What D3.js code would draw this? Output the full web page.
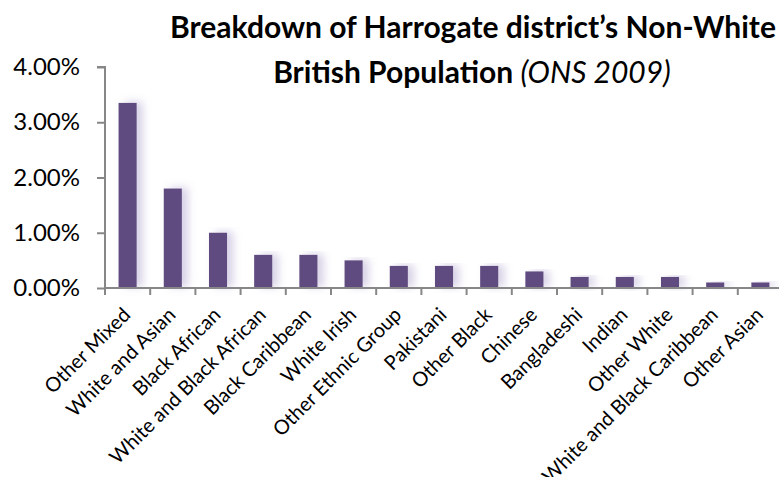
<!DOCTYPE html>
<html>
<head>
<meta charset="utf-8">
<script src="https://cdn.jsdelivr.net/npm/d3@7/dist/d3.min.js"></script>
<style>
  html, body { margin: 0; padding: 0; background: #fff; }
  svg { display: block; }
  text { font-family: Lato, "Open Sans", sans-serif; fill: #000; }
</style>
</head>
<body>
<svg id="chart" width="779" height="477"></svg>
<script>
// Share of Harrogate district population by non-White British ethnic group (%)
const categories = [
  "Other Mixed", "White and Asian", "Black African", "White and Black African",
  "Black Caribbean", "White Irish", "Other Ethnic Group", "Pakistani",
  "Other Black", "Chinese", "Bangladeshi", "Indian", "Other White",
  "White and Black Caribbean", "Other Asian"
];
const values = [3.35, 1.8, 1.0, 0.6, 0.6, 0.5, 0.4, 0.4, 0.4, 0.3, 0.2, 0.2, 0.2, 0.1, 0.1];
const yTicks = [0, 1, 2, 3, 4];
const titleLine1 = "Breakdown of Harrogate district\u2019s Non-White";
const titleLine2Bold = "British Population ";
const titleLine2Italic = "(ONS 2009)";

const svg = d3.select("#chart");
const W = 779, H = 477;
const margin = { left: 105, right: -4, top: 67, bottom: 189 };

const x = d3.scaleBand()
  .domain(categories)
  .range([margin.left, W - margin.right])
  .paddingInner(0.6)
  .paddingOuter(0.3);

const y = d3.scaleLinear()
  .domain([0, 4])
  .range([H - margin.bottom, margin.top]);

// soft purple shadow cast to the right of each column
const defs = svg.append("defs");
const f = defs.append("filter").attr("id", "barShadow")
  .attr("x", "-20%").attr("y", "-10%").attr("width", "200%").attr("height", "130%");
f.append("feDropShadow")
  .attr("dx", 6).attr("dy", -1).attr("stdDeviation", 4)
  .attr("flood-color", "#9a8ac0").attr("flood-opacity", 0.4);

// bars
svg.append("g").selectAll("rect")
  .data(values)
  .join("rect")
  .attr("x", (d, i) => x(categories[i]))
  .attr("width", x.bandwidth())
  .attr("y", d => y(d))
  .attr("height", d => y(0) - y(d))
  .attr("fill", "#5f4b7f")
  .attr("filter", "url(#barShadow)");

const axisColor = "#878787";

// y axis
const yAxis = svg.append("g")
  .attr("transform", `translate(${margin.left},0)`)
  .call(d3.axisLeft(y).tickValues(yTicks).tickSize(8).tickPadding(17)
    .tickFormat(d => d3.format(".2f")(d) + "%"));
yAxis.select(".domain").attr("stroke", axisColor).attr("stroke-width", 2)
  .attr("d", `M-8,${y(4)}H0V${y(0)}`);
yAxis.selectAll(".tick line").attr("stroke", axisColor).attr("stroke-width", 2);
yAxis.selectAll(".tick text")
  .style("font-family", "Lato, sans-serif")
  .style("font-size", "24px").attr("fill", "#000");

// x axis: tick marks on the category boundaries
const xAxisG = svg.append("g");
const base = y(0);
xAxisG.append("line")
  .attr("x1", margin.left).attr("x2", W + 5)
  .attr("y1", base).attr("y2", base)
  .attr("stroke", axisColor).attr("stroke-width", 2);
const step = x.step();
const bounds = categories.map(c => x(c) - (step - x.bandwidth()) / 2);
xAxisG.selectAll("line.tick")
  .data(bounds)
  .join("line").attr("class", "tick")
  .attr("x1", d => d).attr("x2", d => d)
  .attr("y1", base).attr("y2", base + 7)
  .attr("stroke", axisColor).attr("stroke-width", 2);

// rotated category labels
xAxisG.selectAll("text")
  .data(categories)
  .join("text")
  .attr("text-anchor", "end")
  .attr("transform", d => `translate(${x(d) + x.bandwidth() / 2 + 4},${base + 28}) rotate(-45)`)
  .style("font-size", "20px")
  .text(d => d);

// title
const title = svg.append("text").attr("text-anchor", "middle")
  .style("font-weight", "bold").style("font-size", "30px");
title.append("tspan").attr("x", 473).attr("y", 38).text(titleLine1);
const t2 = title.append("tspan").attr("x", 472).attr("y", 83);
t2.text(titleLine2Bold);
title.append("tspan").style("font-weight", "normal").style("font-style", "italic")
  .text(titleLine2Italic);
</script>
</body>
</html>
